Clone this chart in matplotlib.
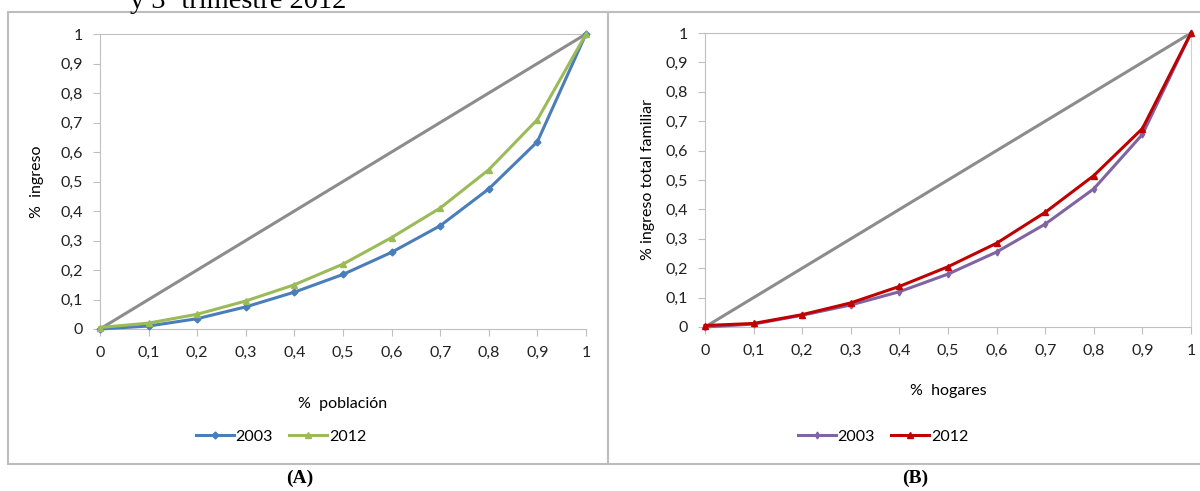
import matplotlib
matplotlib.use("Agg")
import matplotlib.pyplot as plt
from matplotlib.patches import Rectangle

# Curvas de Lorenz
x_vals = [0, 0.1, 0.2, 0.3, 0.4, 0.5, 0.6, 0.7, 0.8, 0.9, 1]
tick_labels = ["0", "0,1", "0,2", "0,3", "0,4", "0,5", "0,6", "0,7", "0,8", "0,9", "1"]

poblacion_2003 = [0, 0.01, 0.035, 0.075, 0.125, 0.185, 0.26, 0.35, 0.475, 0.635, 1]
poblacion_2012 = [0.005, 0.02, 0.05, 0.095, 0.15, 0.22, 0.31, 0.41, 0.54, 0.71, 1]

hogares_2003 = [0, 0.01, 0.04, 0.075, 0.12, 0.18, 0.255, 0.35, 0.47, 0.655, 1]
hogares_2012 = [0.005, 0.012, 0.042, 0.082, 0.138, 0.205, 0.285, 0.39, 0.515, 0.675, 1]

equidad = [0, 1]

plt.rcParams['font.family'] = ['Lato', 'DejaVu Sans']

fig = plt.figure(figsize=(12, 4.91), dpi=100)

# marcos de los paneles
fig.patches.append(Rectangle((8 / 1200, 1 - 464 / 491), 600 / 1200, 452 / 491,
                             transform=fig.transFigure, fill=False,
                             edgecolor='#bdbdbd', lw=1.5))
fig.patches.append(Rectangle((608 / 1200, 1 - 464 / 491), 600 / 1200, 452 / 491,
                             transform=fig.transFigure, fill=False,
                             edgecolor='#bdbdbd', lw=1.5))

ax_a = fig.add_axes([100 / 1200, 1 - 329 / 491, 486 / 1200, 295 / 491])
ax_b = fig.add_axes([705 / 1200, 1 - 327 / 491, 486 / 1200, 294 / 491])

grey = '#8c8c8c'
axis_col = '#bfbfbf'
fs = 11.5


def style(ax, right=False):
    ax.set_xlim(0, 1)
    ax.set_ylim(0, 1)
    ax.set_xticks(x_vals)
    ax.set_xticklabels(tick_labels)
    ax.set_yticks(x_vals)
    ax.set_yticklabels(tick_labels)
    ax.tick_params(axis='both', labelsize=fs, colors='#222222', length=5,
                   color=axis_col, pad=7)
    for side in ('left', 'bottom'):
        ax.spines[side].set_color(axis_col)
    ax.spines['top'].set_color(axis_col)
    ax.spines['top'].set_linewidth(0.8)
    ax.spines['right'].set_visible(right)
    ax.spines['right'].set_color('#d0d0d0')
    ax.patch.set_alpha(0)


# Panel A
ax_a.plot(equidad, equidad, color=grey, lw=2.2, zorder=2, clip_on=False)
ax_a.plot(x_vals, poblacion_2003, color='#4a7ebb', lw=2.2, marker='D',
          markersize=3.5, label='2003', zorder=3, clip_on=False)
ax_a.plot(x_vals, poblacion_2012, color='#9bbb59', lw=2.2, marker='^',
          markersize=5, label='2012', zorder=4, clip_on=False)
style(ax_a)
ax_a.set_xlabel('%  población', fontsize=fs, labelpad=27)
ax_a.set_ylabel('%  ingreso', fontsize=fs, labelpad=12)
ax_a.legend(loc='center', bbox_to_anchor=(0.372, -0.366), ncol=2,
            frameon=False, fontsize=fs, handlelength=2.4, columnspacing=1.0,
            handletextpad=0.1)

# Panel B
ax_b.plot(equidad, equidad, color=grey, lw=2.2, zorder=2, clip_on=False)
ax_b.plot(x_vals, hogares_2003, color='#8064a2', lw=2.2, marker='d',
          markersize=3.5, label='2003', zorder=3, clip_on=False)
ax_b.plot(x_vals, hogares_2012, color='#c00000', lw=2.2, marker='^',
          markersize=5, label='2012', zorder=4, clip_on=False)
style(ax_b, right=True)
ax_b.set_xlabel('%  hogares', fontsize=fs, labelpad=19)
ax_b.set_ylabel('% ingreso total familiar', fontsize=fs, labelpad=8)
ax_b.legend(loc='center', bbox_to_anchor=(0.366, -0.374), ncol=2,
            frameon=False, fontsize=fs, handlelength=2.4, columnspacing=1.0,
            handletextpad=0.1)

# captions
fig.text(300 / 1200, 1 - 478 / 491, '(A)', ha='center', va='center',
         fontsize=14, fontweight='bold', family='Liberation Serif')
fig.text(915 / 1200, 1 - 478 / 491, '(B)', ha='center', va='center',
         fontsize=14, fontweight='bold', family='Liberation Serif')
fig.text(130 / 1200, 1 - 8 / 491, 'y 3º trimestre 2012', ha='left',
         va='baseline', fontsize=20.5, family='Liberation Serif')

fig.savefig('out.png', dpi=100)
